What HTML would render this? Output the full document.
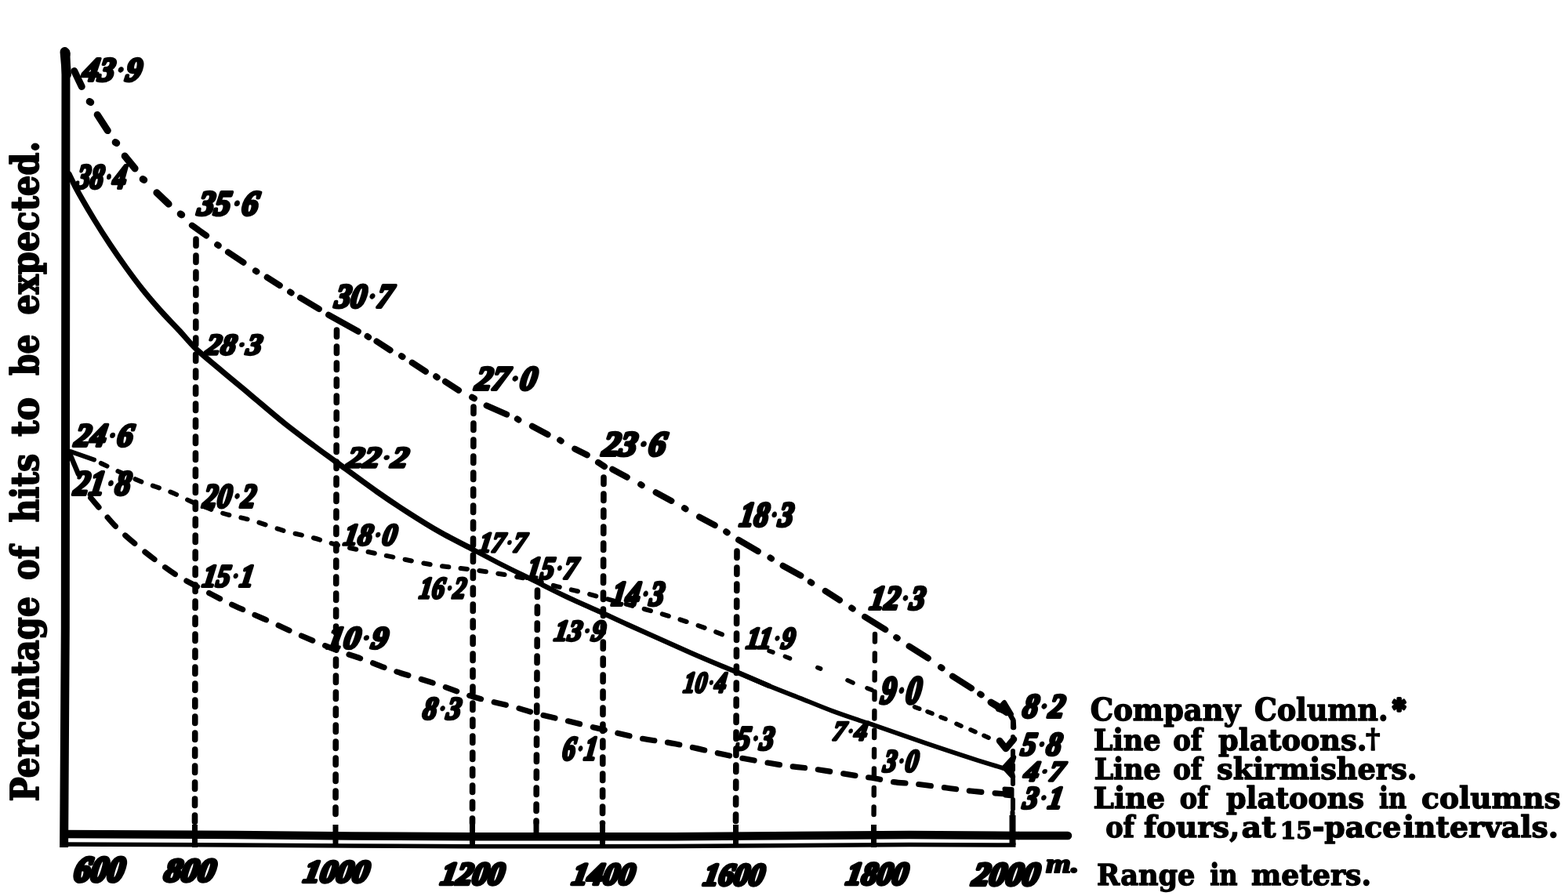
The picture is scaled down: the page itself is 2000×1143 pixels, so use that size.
<!DOCTYPE html>
<html lang="en"><head><meta charset="utf-8"><title>Percentage of hits to be expected</title>
<style>
html,body{margin:0;padding:0;background:#fff;}
body{width:2000px;height:1143px;overflow:hidden;}
svg{display:block;}
.num text{font-family:'Liberation Serif','DejaVu Serif',serif;font-weight:bold;font-style:italic;font-size:40px;fill:#000;stroke:#000;stroke-width:3.8px;stroke-linejoin:round;stroke-linecap:round}
.xnum text{font-family:'Liberation Serif','DejaVu Serif',serif;font-weight:bold;font-style:italic;font-size:40px;fill:#000;stroke:#000;stroke-width:4.6px;stroke-linejoin:round;stroke-linecap:round}
.leg text{font-family:'DejaVu Serif','Liberation Serif',serif;font-weight:bold;font-size:40px;fill:#000;stroke:#000;stroke-width:1.5px;stroke-linejoin:round}
</style></head><body>
<svg width="2000" height="1143" viewBox="0 0 2000 1143">
<rect width="2000" height="1143" fill="#fff"/>

<g fill="none" stroke="#000" stroke-linecap="round">
<path d="M84 67 L83.3 800 L81.6 1081" stroke-width="11" stroke-linecap="butt" stroke-linejoin="round"/>
<path d="M84 67 L84 70" stroke-width="11"/>
<path d="M82.5 66 L85 95" stroke-width="12"/>
<path d="M77 1064 L300 1065 L450 1066.5 L600 1067.3 L860 1067.2 L1160 1065 L1300 1066" stroke-width="10.5" stroke-linejoin="round" stroke-linecap="butt"/>
<path d="M1300 1066 L1362 1066" stroke-width="10.5"/>
<path d="M77 1077 L300 1078 L450 1079 L600 1079.8 L860 1079.6 L1160 1077.5 L1295.5 1078" stroke-width="5.5" stroke-linecap="butt" stroke-linejoin="round"/>
</g>
<g fill="none" stroke="#000" stroke-width="7.6" stroke-linecap="round" stroke-dasharray="8.5 12.5">
<path d="M250.0 305.0 L248.5 1050"/>
<path d="M429.5 421.0 L428.0 1050"/>
<path d="M604.0 519.0 L602.5 1050"/>
<path d="M685.5 753.0 L684.0 1050"/>
<path d="M770.0 609.0 L768.5 1050"/>
<path d="M940.0 703.0 L938.5 1050"/>
<path d="M1116.0 809.0 L1114.5 1050" stroke-width="6.4" stroke-dasharray="9.5 15"/>
</g>
<g fill="none" stroke="#000" stroke-width="7" stroke-linecap="butt">
<path d="M248.5 1052 L248.5 1081"/>
<path d="M428.0 1052 L428.0 1081"/>
<path d="M602.5 1052 L602.5 1081"/>
<path d="M684.0 1052 L684.0 1070"/>
<path d="M768.5 1052 L768.5 1081"/>
<path d="M938.5 1052 L938.5 1081"/>
<path d="M1114.5 1052 L1114.5 1081"/>
</g>
<g fill="none" stroke="#000" stroke-linecap="round">
<path d="M1292 918 L1292 928" stroke-width="6"/>
<path d="M1292 940 L1292 1000" stroke-width="6" stroke-dasharray="6 12"/>
<path d="M1292 1020 L1292 1032" stroke-width="6"/>
<path d="M1291.5 1040 L1291.5 1078" stroke-width="8" stroke-linecap="butt"/>
<path d="M1291.5 1036 L1291.5 1042" stroke-width="6"/>
</g>
<g fill="none" stroke="#000" stroke-linecap="round">
<path d="M94.8 90.6 L104.2 110.4 M114.2 129.5 l1.5 1 M124.2 146.4 L137.3 166.6 M147.2 181.5 l1.5 1 M159.2 199.1 L172.1 214.9 M182.2 228.5 l1.5 1 M199.9 245.8 L215.1 260.2 M230.2 272.9 l1.5 1" stroke-width="9"/>
<path d="M244.9 287.6 L263.1 300.5 M277.2 312.2 l1.5 1 M291.0 321.7 L310.5 334.8 M325.9 345.4 l1.5 1 M340.7 353.8 L356.8 364.1 M370.1 372.5 l1.5 1 M383.1 379.9 L406.9 394.1 M419.1 401.7 L456.9 422.7 M468.6 429.0 l1.5 1 M480.5 435.5 L497.6 446.6 M512.0 454.1 l1.5 1 M525.7 462.7 L542.9 473.8 M556.2 480.3 l1.5 1 M568.0 486.8 L585.0 497.9 M602.1 506.7 L604.9 508.3 M620.6 517.4 L646.2 528.6 M659.9 534.5 l1.5 1 M678.9 543.7 L698.6 554.3 M714.2 561.5 l1.5 1 M733.2 572.6 L748.8 580.4 M763.0 589.9 L771.0 595.1 M781.2 598.7 L799.8 608.7 M817.2 618.0 l1.5 1 M836.6 628.2 L856.4 638.9 M873.0 648.2 l1.5 1 M892.0 659.4 L911.8 670.1 M926.2 678.3 l1.5 1 M942.1 688.8 L966.9 703.2 M982.5 711.5 l1.5 1 M998.6 721.7 L1021.4 734.3 M1033.8 742.5 l1.5 1 M1052.7 753.9 L1071.0 765.6 M1086.2 775.5 l1.5 1 M1103.1 786.9 L1129.3 803.1 M1143.2 813.1 l1.5 1 M1159.6 824.4 L1183.8 839.7 M1200.0 851.2 l1.5 1 M1215.0 862.6 L1239.0 877.9 M1250.2 885.4 l1.5 1 M1265.0 896.9 L1284.0 909.1" stroke-width="8.0"/>
</g>
<g fill="none" stroke="#000" stroke-linejoin="round" stroke-linecap="round">
<path d="M1273 905 L1290 911 L1281 896 Z" stroke-width="6" fill="#000"/>
<path d="M1264 896 L1284 908" stroke-width="9"/>
<path d="M1288 911 L1292.5 919 L1293 928" stroke-width="6.5"/>
<path d="M1275 945 L1283 955 L1293 943" stroke-width="8.5"/>
<path d="M1293 966 L1281 979 L1292 991 L1289 979 Z" stroke-width="6.5" fill="#000"/>
<path d="M1281 1006 L1291 1006.5 L1291 1016 L1282 1015 Z" stroke-width="5" fill="#000"/>
</g>
<g fill="none" stroke="#000" stroke-linecap="round" stroke-linejoin="round">
<path d="M88.0 222.0 C88.7 223.3 90.0 226.0 92.0 230.0 C94.0 234.0 95.5 237.6 100.2 246.0 C104.9 254.4 113.7 269.5 120.4 280.5 C127.1 291.5 133.8 301.9 140.5 312.0 C147.2 322.1 153.7 331.4 160.6 341.0 C167.5 350.6 174.7 360.3 182.0 369.5 C189.3 378.7 196.7 387.2 204.5 396.0 C212.3 404.8 221.4 413.8 229.0 422.0 C236.6 430.2 241.8 437.2 250.0 445.0 C258.2 452.8 268.3 460.8 278.0 469.0 C287.7 477.2 299.8 487.2 308.0 494.0 C316.2 500.8 317.8 502.2 327.0 510.0 C336.2 517.8 351.3 530.8 363.5 540.5 C375.7 550.2 389.3 560.2 400.3 568.5 C411.3 576.8 416.3 580.2 429.7 590.0 C443.1 599.8 465.3 616.3 480.5 627.0 C495.7 637.7 507.3 645.4 520.7 654.0 C534.1 662.6 547.3 670.9 561.0 678.7 C574.7 686.5 596.0 697.1 603.0 700.8" stroke-width="7.2"/>
<path d="M603.0 700.8 C609.4 704.2 628.3 714.3 641.4 721.0 C654.5 727.7 668.3 734.3 681.7 741.0 C695.1 747.7 708.6 754.7 722.0 761.0 C735.4 767.3 749.0 773.1 762.0 779.0 C775.0 784.9 786.9 790.6 800.0 796.5 C813.1 802.4 827.0 808.6 840.5 814.6 C854.0 820.6 867.3 826.8 880.7 832.7 C894.1 838.6 911.3 845.8 921.0 849.8 C930.7 853.8 929.0 852.8 939.0 857.0 C949.0 861.2 974.0 872.0 981.0 875.0" stroke-width="6.4"/>
<path d="M939.0 857.0 C946.0 860.0 967.2 869.3 981.0 875.0 C994.8 880.7 1008.1 885.7 1021.6 891.0 C1035.1 896.3 1048.4 902.0 1061.8 907.0 C1075.2 912.0 1093.0 917.9 1102.0 921.0 C1111.0 924.1 1102.9 921.0 1116.0 925.5 C1129.1 930.0 1159.9 940.9 1180.7 948.0 C1201.5 955.1 1224.0 962.5 1241.0 968.0 C1258.0 973.5 1276.0 978.8 1283.0 981.0" stroke-width="5.8"/>
<path d="M90 576 L120 586.5" stroke-width="6"/>
<path d="M122.0 587.0 C123.5 587.8 121.5 587.5 131.0 592.0 C140.5 596.5 167.7 609.2 179.0 614.0 C190.3 618.8 192.0 618.5 199.0 621.0 C206.0 623.5 212.7 625.5 221.0 629.0 C229.3 632.5 238.3 637.7 249.0 642.0 C259.7 646.3 272.8 651.3 285.0 655.0 C297.2 658.7 309.2 660.3 322.0 664.0 C334.8 667.7 349.2 673.3 362.0 677.0 C374.8 680.7 388.0 683.1 399.0 686.0 C410.0 688.9 417.8 691.9 428.0 694.6 C438.2 697.3 447.5 699.3 460.0 702.0 C472.5 704.7 487.2 707.8 503.0 711.0 C518.8 714.2 538.2 718.3 555.0 721.0 C571.8 723.7 587.3 724.7 604.0 727.0 C620.7 729.3 641.5 732.7 655.0 735.0 C668.5 737.3 675.2 738.7 685.0 741.0 C694.8 743.3 704.8 746.7 714.0 749.0 C723.2 751.3 730.7 752.7 740.0 755.0 C749.3 757.3 756.3 759.3 770.0 763.0 C783.7 766.7 807.0 772.8 822.0 777.0 C837.0 781.2 846.7 783.8 860.0 788.0 C873.3 792.2 889.5 797.5 902.0 802.0 C914.5 806.5 929.5 812.8 935.0 815.0" stroke-width="6" stroke-dasharray="8.5 15.5" stroke-dashoffset="-8"/>
<path d="M981.1 830.4 L985.9 832.0 M1001.4 837.5 L1007.5 839.9 M1042.8 851.6 L1046.6 853.0 M1081.0 867.8 L1088.0 871.0 M1106.0 877.8 L1112.0 880.2 M1166.6 901.8 L1172.7 904.2 M1183.0 907.8 L1189.0 910.2 M1200.0 914.8 L1206.0 917.2 M1220.0 923.4 L1226.0 926.1 M1238.0 930.9 L1244.0 933.6 M1255.0 938.4 L1261.0 941.1" stroke-width="5.6"/>
<path d="M89.5 580 L100 605" stroke-width="6.5"/>
<path d="M114.0 633.0 C117.0 636.5 126.0 647.2 132.0 654.0 C138.0 660.8 142.8 667.0 150.0 674.0 C157.2 681.0 166.8 689.2 175.0 696.0 C183.2 702.8 190.8 708.8 199.0 715.0 C207.2 721.2 215.7 727.7 224.0 733.0 C232.3 738.3 238.5 741.3 249.0 747.0 C259.5 752.7 276.0 761.5 287.0 767.0 C298.0 772.5 304.7 775.3 315.0 780.0 C325.3 784.7 337.8 790.0 349.0 795.0 C360.2 800.0 368.8 804.3 382.0 810.0 C395.2 815.7 414.5 823.8 428.0 829.0 C441.5 834.2 451.0 836.7 463.0 841.0 C475.0 845.3 484.7 849.8 500.0 855.0 C515.3 860.2 537.7 866.3 555.0 872.0 C572.3 877.7 587.2 884.0 604.0 889.0 C620.8 894.0 642.2 898.3 656.0 902.0 C669.8 905.7 676.2 908.2 687.0 911.0 C697.8 913.8 707.2 915.7 721.0 919.0 C734.8 922.3 753.8 927.2 770.0 931.0 C786.2 934.8 802.7 939.0 818.0 942.0 C833.3 945.0 844.0 945.5 862.0 949.0 C880.0 952.5 913.0 960.2 926.0 963.0 C939.0 965.8 928.2 963.8 940.0 966.0 C951.8 968.2 980.7 973.5 997.0 976.0 C1013.3 978.5 1021.7 978.7 1038.0 981.0 C1054.3 983.3 1082.0 988.0 1095.0 990.0 C1108.0 992.0 1108.5 991.7 1116.0 993.0 C1123.5 994.3 1131.5 996.4 1140.0 997.6 C1148.5 998.8 1155.8 998.8 1167.0 1000.0 C1178.2 1001.2 1195.2 1003.5 1207.0 1005.0 C1218.8 1006.5 1225.3 1007.7 1238.0 1009.0 C1250.7 1010.3 1275.5 1012.3 1283.0 1013.0" stroke-width="7.2" stroke-dasharray="15.5 17" stroke-dashoffset="-3"/>
</g>
<g class="num">
<text transform="matrix(1.0125 0 0 1.0667 104.03 102.87) skewX(-10)">43<tspan style="stroke-width:0.5px" dx="2">·</tspan><tspan dx="2">9</tspan></text>
<text transform="matrix(0.8519 0 0 1.1000 96.70 239.80) skewX(-10)">38<tspan style="stroke-width:0.5px" dx="2">·</tspan><tspan dx="2">4</tspan></text>
<text transform="matrix(1.0366 0 0 1.1000 251.07 273.80) skewX(-10)">35<tspan style="stroke-width:0.5px" dx="2">·</tspan><tspan dx="2">6</tspan></text>
<text transform="matrix(0.9881 0 0 1.0667 425.98 391.87) skewX(-10)">30<tspan style="stroke-width:0.5px" dx="2">·</tspan><tspan dx="2">7</tspan></text>
<text transform="matrix(1.0494 0 0 1.0667 605.10 496.87) skewX(-10)">27<tspan style="stroke-width:0.5px" dx="2">·</tspan><tspan dx="2">0</tspan></text>
<text transform="matrix(1.0854 0 0 1.1000 767.17 580.80) skewX(-10)">23<tspan style="stroke-width:0.5px" dx="2">·</tspan><tspan dx="2">6</tspan></text>
<text transform="matrix(0.9250 0 0 1.1000 941.92 670.80) skewX(-10)">18<tspan style="stroke-width:0.5px" dx="2">·</tspan><tspan dx="2">3</tspan></text>
<text transform="matrix(0.9500 0 0 1.0667 1107.95 776.87) skewX(-10)">12<tspan style="stroke-width:0.5px" dx="2">·</tspan><tspan dx="2">3</tspan></text>
<text transform="matrix(0.9831 0 0 1.0667 1303.00 914.87) skewX(-10)">8<tspan style="stroke-width:0.5px" dx="2">·</tspan><tspan dx="2">2</tspan></text>
<text transform="matrix(0.9630 0 0 0.9333 260.93 452.13) skewX(-10)">28<tspan style="stroke-width:0.5px" dx="2">·</tspan><tspan dx="2">3</tspan></text>
<text transform="matrix(1.0494 0 0 0.9333 441.10 596.13) skewX(-10)">22<tspan style="stroke-width:0.5px" dx="2">·</tspan><tspan dx="2">2</tspan></text>
<text transform="matrix(0.8072 0 0 0.9000 609.81 704.20) skewX(-10)">17<tspan style="stroke-width:0.5px" dx="2">·</tspan><tspan dx="2">7</tspan></text>
<text transform="matrix(0.8675 0 0 1.0000 670.87 738.00) skewX(-10)">15<tspan style="stroke-width:0.5px" dx="2">·</tspan><tspan dx="2">7</tspan></text>
<text transform="matrix(0.8734 0 0 0.9333 705.87 817.13) skewX(-10)">13<tspan style="stroke-width:0.5px" dx="2">·</tspan><tspan dx="2">9</tspan></text>
<text transform="matrix(0.7375 0 0 0.9333 870.74 883.13) skewX(-10)">10<tspan style="stroke-width:0.5px" dx="2">·</tspan><tspan dx="2">4</tspan></text>
<text transform="matrix(0.8136 0 0 0.8667 1061.00 944.27) skewX(-10)">7<tspan style="stroke-width:0.5px" dx="2">·</tspan><tspan dx="2">4</tspan></text>
<text transform="matrix(0.9375 0 0 0.9000 1304.88 996.20) skewX(-10)">4<tspan style="stroke-width:0.5px" dx="2">·</tspan><tspan dx="2">7</tspan></text>
<text transform="matrix(1.0000 0 0 1.0333 94.00 568.93) skewX(-10)">24<tspan style="stroke-width:0.5px" dx="2">·</tspan><tspan dx="2">6</tspan></text>
<text transform="matrix(0.9012 0 0 1.0667 257.80 646.87) skewX(-10)">20<tspan style="stroke-width:0.5px" dx="2">·</tspan><tspan dx="2">2</tspan></text>
<text transform="matrix(0.9125 0 0 0.9667 436.91 695.07) skewX(-10)">18<tspan style="stroke-width:0.5px" dx="2">·</tspan><tspan dx="2">0</tspan></text>
<text transform="matrix(0.8000 0 0 0.9667 533.80 763.07) skewX(-10)">16<tspan style="stroke-width:0.5px" dx="2">·</tspan><tspan dx="2">2</tspan></text>
<text transform="matrix(0.9000 0 0 1.1000 778.90 771.80) skewX(-10)">14<tspan style="stroke-width:0.5px" dx="2">·</tspan><tspan dx="2">3</tspan></text>
<text transform="matrix(0.8571 0 0 0.9667 950.86 827.07) skewX(-10)">11<tspan style="stroke-width:0.5px" dx="2">·</tspan><tspan dx="2">9</tspan></text>
<text transform="matrix(0.9500 0 0 1.2333 1121.95 896.53) skewX(-10)">9<tspan style="stroke-width:0.5px" dx="2">·</tspan><tspan dx="2">0</tspan></text>
<text transform="matrix(0.9500 0 0 1.0333 1300.95 962.93) skewX(-10)">5<tspan style="stroke-width:0.5px" dx="2">·</tspan><tspan dx="2">8</tspan></text>
<text transform="matrix(0.9753 0 0 1.1000 92.95 630.80) skewX(-10)">21<tspan style="stroke-width:0.5px" dx="2">·</tspan><tspan dx="2">8</tspan></text>
<text transform="matrix(0.8831 0 0 1.0000 256.88 748.00) skewX(-10)">15<tspan style="stroke-width:0.5px" dx="2">·</tspan><tspan dx="2">1</tspan></text>
<text transform="matrix(1.0380 0 0 1.0000 416.04 827.00) skewX(-10)">10<tspan style="stroke-width:0.5px" dx="2">·</tspan><tspan dx="2">9</tspan></text>
<text transform="matrix(0.8983 0 0 1.0000 538.00 917.00) skewX(-10)">8<tspan style="stroke-width:0.5px" dx="2">·</tspan><tspan dx="2">3</tspan></text>
<text transform="matrix(0.8182 0 0 1.0667 716.18 968.87) skewX(-10)">6<tspan style="stroke-width:0.5px" dx="2">·</tspan><tspan dx="2">1</tspan></text>
<text transform="matrix(0.8833 0 0 1.0667 937.88 955.87) skewX(-10)">5<tspan style="stroke-width:0.5px" dx="2">·</tspan><tspan dx="2">3</tspan></text>
<text transform="matrix(0.8197 0 0 1.0000 1125.64 984.00) skewX(-10)">3<tspan style="stroke-width:0.5px" dx="2">·</tspan><tspan dx="2">0</tspan></text>
<text transform="matrix(0.9310 0 0 1.0000 1303.86 1031.00) skewX(-10)">3<tspan style="stroke-width:0.5px" dx="2">·</tspan><tspan dx="2">1</tspan></text>
</g>
<g class="xnum">
<text transform="matrix(1.0615 0 0 1.1250 93.00 1123.62) skewX(-10)">600</text>
<text transform="matrix(1.0758 0 0 1.0312 208.08 1123.91) skewX(-10)">800</text>
<text transform="matrix(1.0349 0 0 0.9844 386.03 1124.55) skewX(-10)">1000</text>
<text transform="matrix(1.0000 0 0 1.0000 561.00 1128.00) skewX(-10)">1200</text>
<text transform="matrix(0.9884 0 0 0.9688 728.49 1128.09) skewX(-10)">1400</text>
<text transform="matrix(0.9651 0 0 0.9844 895.97 1128.55) skewX(-10)">1600</text>
<text transform="matrix(0.9767 0 0 1.0000 1077.98 1128.00) skewX(-10)">1800</text>
<text transform="matrix(1.0568 0 0 1.0312 1239.17 1128.91) skewX(-10)">2000</text>
</g>
<text style="font-family:'Liberation Serif',serif;font-weight:bold;font-style:italic;font-size:40px;fill:#000;stroke:#000;stroke-width:2.5px;stroke-linejoin:round" transform="matrix(1.0256 0 0 0.8182 1334.00 1113.18) ">m.</text>
<g class="leg">
<text transform="matrix(0.9245 0 0 0.9667 1390.78 919.30)">Company</text>
<text transform="matrix(0.9065 0 0 0.9667 1600.09 919.30)">Column.</text>
<text transform="matrix(0.8792 0 0 0.9333 1394.72 956.70)">Line</text>
<text transform="matrix(0.8478 0 0 0.9333 1496.15 956.70)">of</text>
<text transform="matrix(0.9186 0 0 0.9333 1554.00 956.70)">platoons.</text>
<text transform="matrix(0.8698 0 0 0.9333 1395.63 993.80)">Line</text>
<text transform="matrix(0.8478 0 0 0.9333 1496.15 993.80)">of</text>
<text transform="matrix(0.9175 0 0 0.9333 1552.08 993.80)">skirmishers.</text>
<text transform="matrix(0.9365 0 0 0.9333 1394.56 1030.80)">Line</text>
<text transform="matrix(0.8370 0 0 0.9333 1504.66 1030.80)">of</text>
<text transform="matrix(0.9146 0 0 0.9333 1564.00 1030.80)">platoons</text>
<text transform="matrix(0.7930 0 0 0.9333 1758.91 1030.80)">in</text>
<text transform="matrix(0.9385 0 0 0.9333 1813.06 1030.80)">columns</text>
<text transform="matrix(0.8413 0 0 0.9333 1410.16 1067.80)">of</text>
<text transform="matrix(0.9370 0 0 0.9333 1459.00 1067.80)">fours,</text>
<text transform="matrix(0.9864 0 0 0.9333 1583.61 1067.80)">at</text>
<text transform="matrix(0.9453 0 0 0.9333 1632.86 1067.80)"><tspan style="font-size:31px" dy="2">15</tspan><tspan dy="-2">-pace</tspan></text>
<text transform="matrix(0.9435 0 0 0.9333 1789.76 1067.80)">intervals.</text>
<text transform="matrix(0.8794 0 0 0.9333 1399.12 1129.30)">Range</text>
<text transform="matrix(0.8000 0 0 0.9333 1543.20 1129.30)">in</text>
<text transform="matrix(0.9036 0 0 0.9333 1596.10 1129.30)">meters.</text>
<text style="stroke-width:5px" transform="matrix(0.7800 0 0 0.8261 1776.56 916.43) ">*</text>
<text style="stroke-width:1.6px" transform="matrix(0.8810 0 0 0.8529 1742.00 953.59) ">†</text>
<g style="stroke-width:1.4px">
<text transform="translate(48.5 1021.50) rotate(-90) scale(1.0380 1.2000)" x="-1.00">Percentage</text>
<text transform="translate(48.5 739.00) rotate(-90) scale(1.0000 1.2000)" x="-1.00">of</text>
<text transform="translate(48.5 665.50) rotate(-90) scale(1.0301 1.2000)" x="-1.00">hits</text>
<text transform="translate(48.5 557.00) rotate(-90) scale(1.1136 1.2000)" x="0.00">to</text>
<text transform="translate(48.5 479.00) rotate(-90) scale(0.9808 1.2000)" x="0.00">be</text>
<text transform="translate(48.5 400.60) rotate(-90) scale(1.0411 1.2000)" x="-1.00">expected.</text>
</g>
</g>
</svg></body></html>
